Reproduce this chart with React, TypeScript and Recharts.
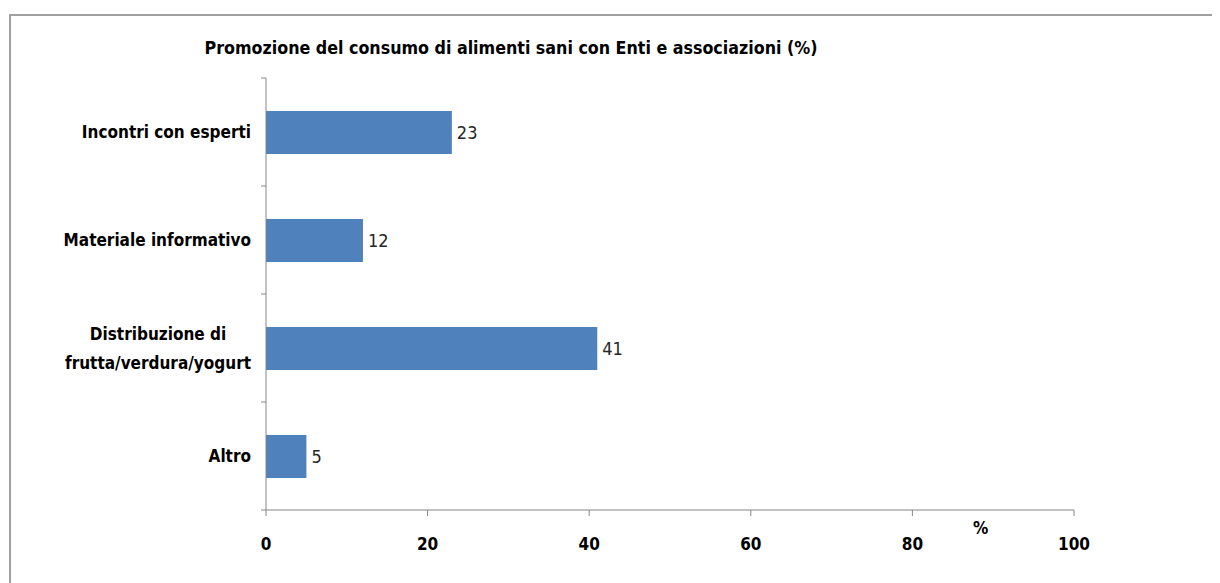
import React from 'react';
import { BarChart, Bar, XAxis, YAxis, LabelList } from 'recharts';

const categories = ['Incontri con esperti', 'Materiale informativo', 'Distribuzione di\nfrutta/verdura/yogurt', 'Altro'];
const values = [23, 12, 41, 5];
const xTicks = [0, 20, 40, 60, 80, 100];
const title = 'Promozione del consumo di alimenti sani con Enti e associazioni (%)';
const axisUnit = '%';

const data = categories.map((c, i) => ({ name: c, value: values[i] }));

const FONT = '"Liberation Sans Narrow", "Arial Narrow", "DejaVu Sans Condensed", sans-serif';
const Y_AXIS_WIDTH = 258;
const PLOT_TOP = 70;
const PLOT_BOTTOM_MARGIN = 73;
const CHART_H = 575;

let ctx: CanvasRenderingContext2D | null = null;
function measure(text: string, font: string) {
  if (!ctx) ctx = document.createElement('canvas').getContext('2d');
  if (!ctx) return text.length * 8;
  ctx.font = font;
  return ctx.measureText(text).width;
}

const CatTick = (props: any) => {
  const { x, y, payload, index, visibleTicksCount } = props;
  const n = visibleTicksCount || categories.length;
  const band = (CHART_H - PLOT_TOP - PLOT_BOTTOM_MARGIN) / n;
  const lines = String(payload.value).split('\n');
  const font = `bold 17px ${FONT}`;
  const maxW = Math.max(...lines.map((l) => measure(l, font)));
  const cx = x - 8 - maxW / 2;
  const lh = 29;
  const y0 = y - ((lines.length - 1) * lh) / 2;
  const ax = Y_AXIS_WIDTH;
  return (
    <g>
      <line x1={ax - 5} x2={ax} y1={y - band / 2} y2={y - band / 2} stroke="#868686" />
      {index === n - 1 && <line x1={ax - 5} x2={ax} y1={y + band / 2} y2={y + band / 2} stroke="#868686" />}
      <text x={cx} y={y0} textAnchor="middle" dominantBaseline="central" fill="#000" style={{ fontFamily: FONT, fontSize: 17, fontWeight: 'bold' }}>
        {lines.map((l, i) => (
          <tspan key={i} x={cx} y={y0 + i * lh}>{l}</tspan>
        ))}
      </text>
    </g>
  );
};

export default function App() {
  return (
    <div style={{ position: 'relative', width: 1212, height: 575, overflow: 'hidden', background: '#fff' }}>
      <div style={{ position: 'absolute', left: 1, top: 6, width: 1400, height: 800, border: '2px solid #a0a0a0', boxSizing: 'border-box' }} />
      <div style={{ position: 'absolute', left: 0, width: 1006, top: 30, textAlign: 'center', fontFamily: FONT, fontWeight: 'bold', fontSize: 17.7, color: '#000' }}>{title}</div>
      <div style={{ position: 'absolute', left: 965, top: 510, fontFamily: FONT, fontWeight: 'bold', fontSize: 17, color: '#000' }}>{axisUnit}</div>
      <div style={{ position: 'absolute', left: 0, top: 0 }}>
        <BarChart width={1212} height={CHART_H} data={data} layout="vertical" margin={{ top: PLOT_TOP, right: 146, bottom: 33, left: 0 }} barCategoryGap="20%">
          <XAxis type="number" domain={[0, 100]} ticks={xTicks} interval={0} stroke="#868686" tickLine={{ stroke: '#868686' }} tickSize={6} height={40}
            tick={{ fill: '#000', fontFamily: FONT, fontSize: 17, fontWeight: 'bold' }} tickMargin={22} />
          <YAxis type="category" dataKey="name" width={Y_AXIS_WIDTH} interval={0} stroke="#868686" axisLine={{ stroke: '#868686' }} tickLine={false} tickSize={5} tick={<CatTick />} />
          <Bar dataKey="value" fill="#4F81BD" barSize={43} isAnimationActive={false}>
            <LabelList dataKey="value" position="right" offset={5} style={{ fill: '#262626', fontFamily: FONT, fontSize: 18 }} />
          </Bar>
        </BarChart>
      </div>
    </div>
  );
}
